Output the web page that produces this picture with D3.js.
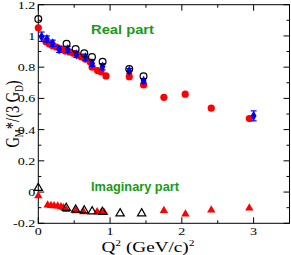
<!DOCTYPE html>
<html>
<head>
<meta charset="utf-8">
<script src="https://cdn.jsdelivr.net/npm/d3@7"></script>
<style>
  body { margin: 0; background: #fff; }
</style>
</head>
<body>
<div id="chart"></div>
<script>
// real part, red filled circles
const redReQ = [0, 0.107, 0.153, 0.2, 0.25, 0.32, 0.376, 0.436, 0.49, 0.547, 0.6, 0.655, 0.724, 0.75, 0.826, 0.873, 0.943, 1.267, 1.467, 1.75, 2.047, 2.41, 2.94];
const redReY = [1.052, 0.963, 0.948, 0.937, 0.929, 0.916, 0.903, 0.897, 0.889, 0.878, 0.865, 0.852, 0.833, 0.8, 0.778, 0.771, 0.744, 0.739, 0.686, 0.607, 0.627, 0.537, 0.471];

// real part, blue diamonds with errors
const blueQ = [0.046, 0.12, 0.2, 0.29, 0.41, 0.53, 0.655, 0.75, 0.895, 1.267, 1.467, 3.0];
const blueY = [0.995, 0.98, 0.953, 0.914, 0.914, 0.882, 0.863, 0.825, 0.803, 0.776, 0.712, 0.488];
const blueErr = [0.03, 0.02, 0.02, 0.02, 0.02, 0.02, 0.02, 0.02, 0.02, 0.015, 0.015, 0.032];

// real part, open black circles
const openReQ = [0, 0.394, 0.52, 0.64, 0.748, 0.896, 1.267, 1.466];
const openReY = [1.108, 0.95, 0.916, 0.889, 0.865, 0.835, 0.788, 0.742];

// imaginary part, red filled triangles
const redImQ = [0, 0.13, 0.177, 0.22, 0.27, 0.316, 0.35, 0.39, 0.52, 0.63, 0.82, 0.88, 0.92, 1.75, 2.05, 2.41, 2.94];
const redImY = [-0.024, -0.083, -0.086, -0.088, -0.09, -0.094, -0.1, -0.113, -0.12, -0.126, -0.126, -0.128, -0.132, -0.118, -0.141, -0.115, -0.102];

// imaginary part, open black triangles
const openImQ = [0, 0.39, 0.52, 0.64, 0.75, 0.895, 1.14, 1.44];
const openImY = [0.026, -0.102, -0.113, -0.118, -0.124, -0.128, -0.137, -0.137];

const xTicks = [0, 1, 2, 3];
const yTicks = [-0.2, 0, 0.2, 0.4, 0.6, 0.8, 1, 1.2];

const width = 291;
const height = 255;
const margin = { top: 4.7, right: 1.5, bottom: 31.7, left: 38.3 };
const serif = "'Liberation Serif', 'Times New Roman', serif";
const sans = "'Liberation Sans', Arial, sans-serif";
const sx = 1.28; // the picture is stretched sideways

const svg = d3.select('#chart')
  .append('svg')
  .attr('width', width)
  .attr('height', height);

const x = d3.scaleLinear().domain([0, 3.5]).range([margin.left, width - margin.right]);
const y = d3.scaleLinear().domain([-0.2, 1.2]).range([height - margin.bottom, margin.top]);

const fmt = d => String(+d.toFixed(1));

// frame + ticks on all sides, pointing inward
const x0 = margin.left, x1 = width - margin.right;
const y0 = height - margin.bottom, y1 = margin.top;

svg.append('rect')
  .attr('x', x0).attr('y', y1)
  .attr('width', x1 - x0).attr('height', y0 - y1)
  .attr('fill', 'none').attr('stroke', '#000').attr('stroke-width', 1);

const xMinor = d3.range(0, 3.51, 0.5);
const yMinor = d3.range(-0.2, 1.201, 0.1);
const isMajor = (v, step) => Math.abs(v / step - Math.round(v / step)) < 1e-6;

const ticks = svg.append('g').attr('stroke', '#000').attr('stroke-width', 1);
xMinor.forEach(v => {
  const len = isMajor(v, 1) ? 6 : 3;
  ticks.append('line').attr('x1', x(v)).attr('x2', x(v)).attr('y1', y0).attr('y2', y0 - len);
  ticks.append('line').attr('x1', x(v)).attr('x2', x(v)).attr('y1', y1).attr('y2', y1 + len);
});
yMinor.forEach(v => {
  const len = isMajor(v, 0.2) ? 6 : 3;
  ticks.append('line').attr('y1', y(v)).attr('y2', y(v)).attr('x1', x0).attr('x2', x0 + len);
  ticks.append('line').attr('y1', y(v)).attr('y2', y(v)).attr('x1', x1).attr('x2', x1 - len);
});

svg.selectAll('.xl')
  .data(xTicks)
  .enter()
  .append('text')
  .attr('transform', d => `translate(${x(d)},${y0 + 11.5}) scale(${sx},1)`)
  .attr('text-anchor', 'middle')
  .attr('font-family', serif)
  .attr('font-size', 11)
  .text(fmt);

svg.selectAll('.yl')
  .data(yTicks)
  .enter()
  .append('text')
  .attr('transform', d => `translate(${x0 - 3},${y(d) + 4}) scale(${sx},1)`)
  .attr('text-anchor', 'end')
  .attr('font-family', serif)
  .attr('font-size', 11)
  .text(fmt);

// axis titles
const xt = svg.append('text')
  .attr('transform', `translate(148,252) scale(${sx},1)`)
  .attr('text-anchor', 'middle')
  .attr('font-family', serif)
  .attr('font-size', 15);
xt.append('tspan').text('Q');
xt.append('tspan').attr('dy', -6).attr('font-size', 9).text('2');
xt.append('tspan').attr('dy', 6).text(' (GeV/c)');
xt.append('tspan').attr('dy', -6).attr('font-size', 9).text('2');

const yt = svg.append('text')
  .attr('transform', `translate(19,114) scale(${sx},1) rotate(-90)`)
  .attr('text-anchor', 'middle')
  .attr('font-family', serif)
  .attr('font-size', 14.5);
yt.append('tspan').text('G');
yt.append('tspan').attr('dy', 3.5).attr('font-size', 9).text('M');
yt.append('tspan').attr('dy', -3.5).text('*/(3 G');
yt.append('tspan').attr('dy', 3.5).attr('font-size', 9).text('D');
yt.append('tspan').attr('dy', -3.5).text(')');

// panel labels
svg.append('text')
  .attr('x', 91).attr('y', 33.5)
  .attr('font-family', sans)
  .attr('font-weight', 'bold')
  .attr('font-size', 12)
  .attr('fill', '#169b16')
  .attr('textLength', 63)
  .attr('lengthAdjust', 'spacingAndGlyphs')
  .text('Real part');

svg.append('text')
  .attr('x', 91).attr('y', 191)
  .attr('font-family', sans)
  .attr('font-weight', 'bold')
  .attr('font-size', 12)
  .attr('fill', '#169b16')
  .attr('textLength', 88)
  .attr('lengthAdjust', 'spacingAndGlyphs')
  .text('Imaginary part');

// markers
const tri = d3.symbol().type(d3.symbolTriangle).size(30);
const dia = d3.symbol().type(d3.symbolDiamond).size(30);

svg.append('g')
  .selectAll('path')
  .data(redImQ.map((q, i) => [q, redImY[i]]))
  .enter()
  .append('path')
  .attr('d', tri)
  .attr('transform', d => `translate(${x(d[0])},${y(d[1])})`)
  .attr('fill', '#ff0000');

svg.append('g')
  .selectAll('path')
  .data(openImQ.map((q, i) => [q, openImY[i]]))
  .enter()
  .append('path')
  .attr('d', tri)
  .attr('transform', d => `translate(${x(d[0])},${y(d[1])})`)
  .attr('fill', 'none')
  .attr('stroke', '#000')
  .attr('stroke-width', 1.2);

svg.append('g')
  .selectAll('circle')
  .data(redReQ.map((q, i) => [q, redReY[i]]))
  .enter()
  .append('circle')
  .attr('cx', d => x(d[0]))
  .attr('cy', d => y(d[1]))
  .attr('r', 3.6)
  .attr('fill', '#ff0000');

const blue = svg.append('g')
  .selectAll('g')
  .data(blueQ.map((q, i) => [q, blueY[i], blueErr[i]]))
  .enter()
  .append('g')
  .attr('stroke', '#0000ff')
  .attr('stroke-width', 1.2);
blue.append('line')
  .attr('x1', d => x(d[0])).attr('x2', d => x(d[0]))
  .attr('y1', d => y(d[1] - d[2])).attr('y2', d => y(d[1] + d[2]));
blue.append('line')
  .attr('x1', d => x(d[0]) - 3).attr('x2', d => x(d[0]) + 3)
  .attr('y1', d => y(d[1] - d[2])).attr('y2', d => y(d[1] - d[2]));
blue.append('line')
  .attr('x1', d => x(d[0]) - 3).attr('x2', d => x(d[0]) + 3)
  .attr('y1', d => y(d[1] + d[2])).attr('y2', d => y(d[1] + d[2]));
blue.append('path')
  .attr('d', dia)
  .attr('transform', d => `translate(${x(d[0])},${y(d[1])})`)
  .attr('fill', '#0000ff')
  .attr('stroke', 'none');

svg.append('g')
  .selectAll('circle')
  .data(openReQ.map((q, i) => [q, openReY[i]]))
  .enter()
  .append('circle')
  .attr('cx', d => x(d[0]))
  .attr('cy', d => y(d[1]))
  .attr('r', 3.4)
  .attr('fill', 'none')
  .attr('stroke', '#000')
  .attr('stroke-width', 1.2);
</script>
</body>
</html>
